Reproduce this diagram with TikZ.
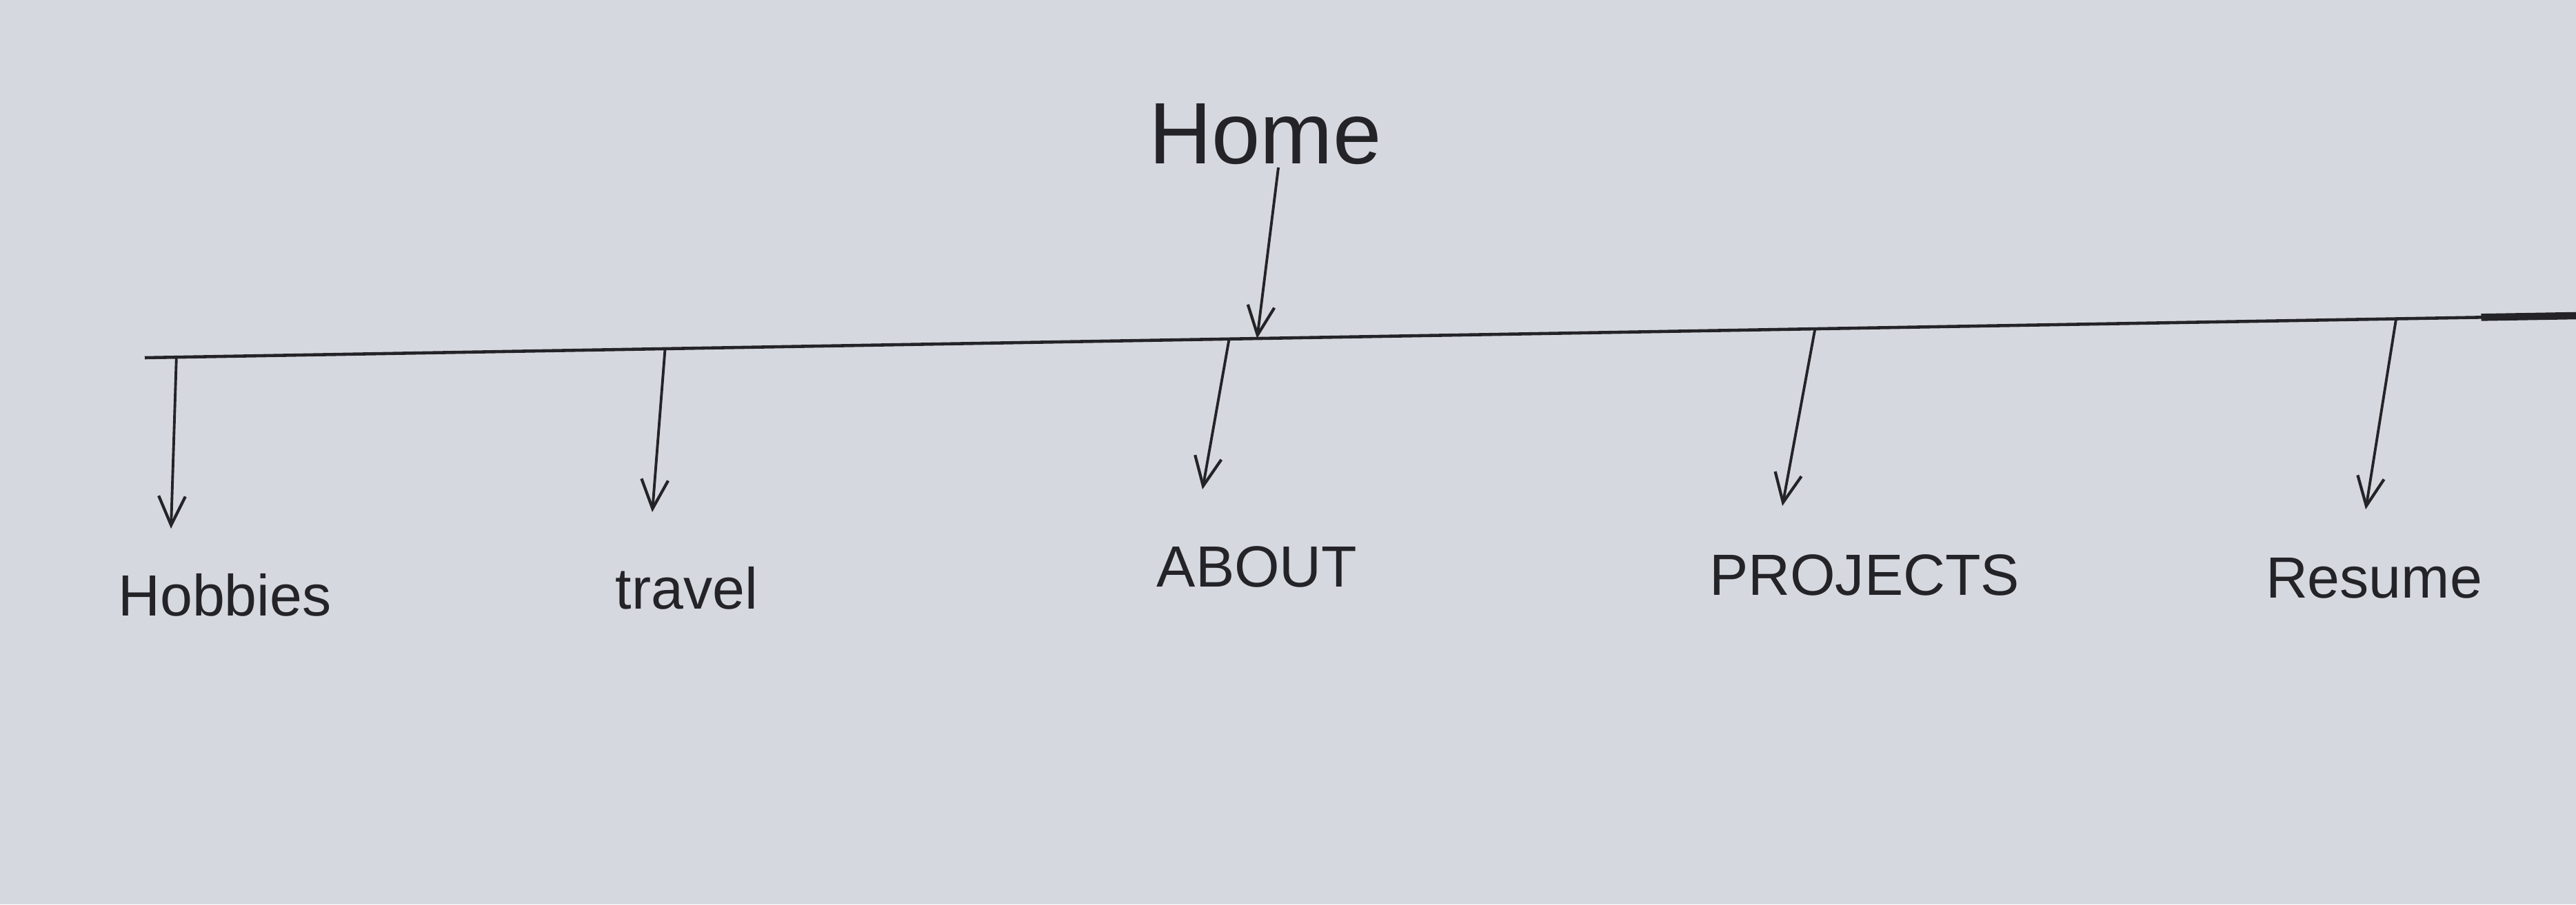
\documentclass[tikz,border=0pt]{standalone}
\usepackage{fontspec}
\setmainfont{Liberation Sans}
\usetikzlibrary{arrows.meta,calc}
\definecolor{paper}{RGB}{214,216,223}
\definecolor{ink}{RGB}{35,35,40}
\tikzset{
    page/.style={text=ink, inner sep=2pt, font=\fontsize{24}{28}\selectfont},
    root/.style={page, font=\fontsize{36}{40}\selectfont},
    link/.style={draw=ink, line width=1.1pt,
                 -{Straight Barb[length=12pt, width=11pt, line width=1.2pt]}},
    bar/.style={draw=ink, line width=1.3pt},
}
\begin{document}
\begin{tikzpicture}

    \fill[paper] (0,0) rectangle (37.36,13.12);
    \useasboundingbox (0,0) rectangle (37.36,13.12);

    % menu bar
    \coordinate (barstart) at (2.10,7.93);
    \coordinate (barend) at (37.36,8.54);
    \draw[bar] (barstart) -- (barend);
    \draw[ink, line width=3pt] ($(barstart)!0.961!(barend)$) -- (barend);

    \coordinate (jhobbies) at ($(barstart)!0.013!(barend)$);
    \coordinate (jtravel) at ($(barstart)!0.214!(barend)$);
    \coordinate (jabout) at ($(barstart)!0.446!(barend)$);
    \coordinate (jhome) at ($(barstart)!0.4575!(barend)$);
    \coordinate (jprojects) at ($(barstart)!0.687!(barend)$);
    \coordinate (jresume) at ($(barstart)!0.926!(barend)$);

    \node[root] (home) at (18.35,11.17) {Home};
    \coordinate (hometail) at (18.54,10.69);

    \node[page] (hobbies) at (3.26,4.49) {Hobbies};
    \node[page] (travel) at (9.96,4.59) {travel};
    \node[page] (about) at (18.23,4.90) {ABOUT};
    \node[page] (projects) at (27.04,4.78) {PROJECTS};
    \node[page] (resume) at (34.43,4.73) {Resume};

    \coordinate (thobbies) at (2.48,5.45);
    \coordinate (ttravel) at (9.46,5.69);
    \coordinate (tabout) at (17.44,6.02);
    \coordinate (tprojects) at (25.85,5.78);
    \coordinate (tresume) at (34.31,5.73);

    \draw[link] (hometail) -- (jhome);
    \draw[link] (jhobbies) -- (thobbies);
    \draw[link] (jtravel) -- (ttravel);
    \draw[link] (jabout) -- (tabout);
    \draw[link] (jprojects) -- (tprojects);
    \draw[link] (jresume) -- (tresume);

\end{tikzpicture}
\end{document}
